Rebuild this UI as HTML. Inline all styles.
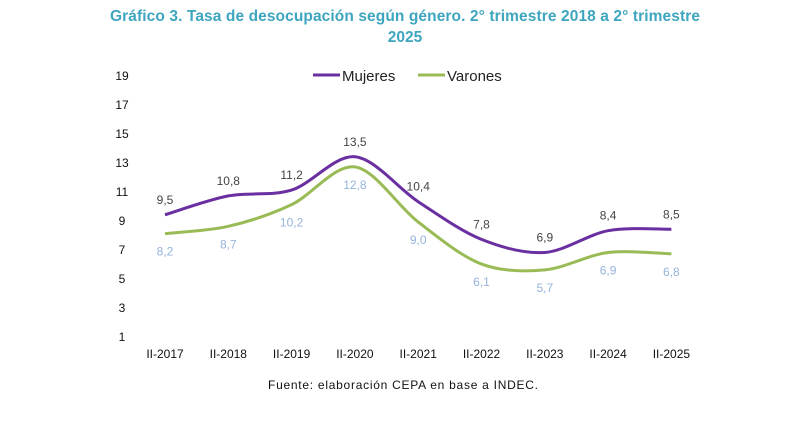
<!DOCTYPE html>
<html><head><meta charset="utf-8"><style>
body{margin:0;background:#fff;width:800px;height:419px;overflow:hidden;font-family:"Liberation Sans",sans-serif}
</style></head><body>
<svg id="c" width="800" height="419" xmlns="http://www.w3.org/2000/svg">
<text x="405" y="21" text-anchor="middle" font-size="15.5" font-weight="bold" fill="#3ea5bf" textLength="590">Gráfico 3. Tasa de desocupación según género. 2° trimestre 2018 a 2° trimestre</text>
<text x="405" y="42" text-anchor="middle" font-size="15.5" font-weight="bold" fill="#3ea5bf">2025</text>
<g>
<line x1="313" y1="75" x2="340" y2="75" stroke="#6a2fa0" stroke-width="3"/>
<text x="342" y="81" font-size="15" fill="#222">Mujeres</text>
<line x1="418" y1="75" x2="445" y2="75" stroke="#99bb55" stroke-width="3"/>
<text x="447" y="81" font-size="15" fill="#222">Varones</text>
</g>
<text x="268" y="389" font-size="12" fill="#111" textLength="270">Fuente: elaboración CEPA en base a INDEC.</text>
<g id="plot"></g>
</svg>
<script>
const categories=["II-2017","II-2018","II-2019","II-2020","II-2021","II-2022","II-2023","II-2024","II-2025"];
const mujeres=[9.5,10.8,11.2,13.5,10.4,7.8,6.9,8.4,8.5];
const varones=[8.2,8.7,10.2,12.8,9.0,6.1,5.7,6.9,6.8];
const yTicks=[1,3,5,7,9,11,13,15,17,19];
const NS="http://www.w3.org/2000/svg";
const g=document.getElementById('plot');
const x=i=>165+i*63.3;
const y=v=>338-(v-1)*14.5;
function el(t,a,txt){const e=document.createElementNS(NS,t);for(const k in a)e.setAttribute(k,a[k]);if(txt!=null)e.textContent=txt;g.appendChild(e);return e;}
yTicks.forEach(t=>{const e=el('text',{x:122,y:y(t)+3,'text-anchor':'middle','font-size':12,fill:'#111'},t);

});
categories.forEach((c,i)=>{const e=el('text',{x:x(i),y:358,'text-anchor':'middle','font-size':12,fill:'#111'},c);

});
function path(vals){const p=vals.map((v,i)=>[x(i),y(v)]);let d='M'+p[0][0]+','+p[0][1];
for(let i=0;i<p.length-1;i++){const p0=p[i-1]||p[i],p1=p[i],p2=p[i+1],p3=p[i+2]||p2;const t=0.16;
d+=' C'+(p1[0]+(p2[0]-p0[0])*t)+','+(p1[1]+(p2[1]-p0[1])*t)+' '+(p2[0]-(p3[0]-p1[0])*t)+','+(p2[1]-(p3[1]-p1[1])*t)+' '+p2[0]+','+p2[1];}return d;}
const lv=el('path',{d:path(varones),fill:'none',stroke:'#99bb55','stroke-width':3});


const lm=el('path',{d:path(mujeres),fill:'none',stroke:'#6a2fa0','stroke-width':3});


const fmt=v=>v.toFixed(1).replace('.',',');
mujeres.forEach((v,i)=>{const e=el('text',{x:x(i),y:y(v)-11,'text-anchor':'middle','font-size':12,fill:'#444'},fmt(v));

});
varones.forEach((v,i)=>{const e=el('text',{x:x(i),y:y(v)+22,'text-anchor':'middle','font-size':12,fill:'#95b3dc'},fmt(v));

});
</script>
</body></html>
